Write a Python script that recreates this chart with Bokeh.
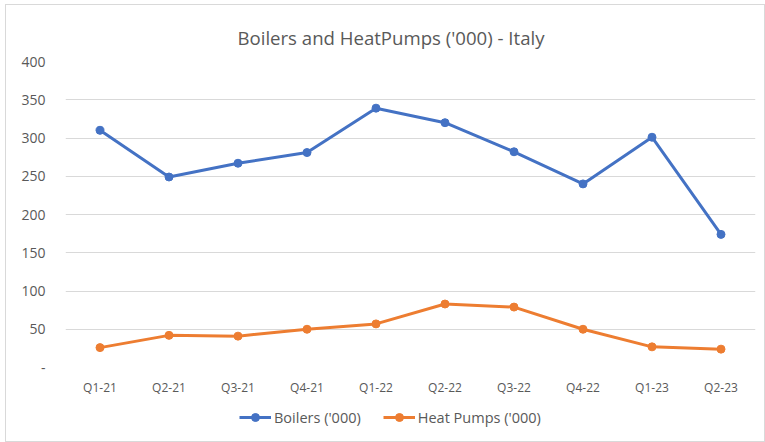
from bokeh.plotting import figure
from bokeh.layouts import column
from bokeh.models import FactorRange, Range1d, FixedTicker, Legend, LegendItem, Label
from bokeh.embed import file_html
from bokeh.resources import INLINE

quarters = ["Q1-21", "Q2-21", "Q3-21", "Q4-21", "Q1-22", "Q2-22", "Q3-22", "Q4-22", "Q1-23", "Q2-23"]
boilers = [310, 249, 267, 281, 339, 320, 282, 240, 301, 174]
heat_pumps = [26, 42, 41, 50, 57, 83, 79, 50, 27, 24]
y_ticks = [0, 50, 100, 150, 200, 250, 300, 350, 400]
series_names = ["Boilers ('000)", "Heat Pumps ('000)"]
series_colors = ["#4472C4", "#ED7D31"]
chart_title = "Boilers and HeatPumps ('000) - Italy"

FONT = "Open Sans"
GREY = "#595959"

# title strip (its frame spans 690 x 46 px, aligned with the chart frame)
tp = figure(width=758, height=46, x_range=Range1d(0, 690), y_range=Range1d(0, 46),
            x_axis_type=None, y_axis_type=None, output_backend="svg", toolbar_location=None,
            min_border=0, outline_line_color=None)
tp.add_layout(Label(x=172, y=14.5, text=chart_title, text_align="left",
                    text_baseline="alphabetic", text_font=FONT, text_font_size="18.6px",
                    text_color=GREY))

p = figure(width=758, height=349, x_range=FactorRange(*quarters, range_padding=0),
           y_range=Range1d(0, 400), output_backend="svg", toolbar_location=None,
           min_border_left=59, min_border_right=9, min_border_top=10, min_border_bottom=33)

p.outline_line_color = None
p.xgrid.grid_line_color = None
p.ygrid.grid_line_color = "#D9D9D9"
p.ygrid.grid_line_width = 1

p.yaxis.ticker = FixedTicker(ticks=y_ticks)
p.yaxis.major_label_overrides = {0: "-"}
p.yaxis.axis_line_color = None
p.yaxis.major_tick_line_color = None
p.yaxis.minor_tick_line_color = None
p.yaxis.major_tick_out = 0
p.yaxis.major_label_standoff = 20
p.yaxis.major_label_text_font = FONT
p.yaxis.major_label_text_font_size = "14px"
p.yaxis.major_label_text_color = GREY

p.xaxis.axis_line_color = None
p.xaxis.major_tick_line_color = None
p.xaxis.minor_tick_line_color = None
p.xaxis.major_tick_out = 0
p.xaxis.major_label_standoff = 11
p.xaxis.major_label_text_font = FONT
p.xaxis.major_label_text_font_size = "12px"
p.xaxis.major_label_text_color = GREY

for vals, col in zip([boilers, heat_pumps], series_colors):
    p.line(quarters, vals, line_color=col, line_width=3)
    p.scatter(quarters, vals, size=8, fill_color=col, line_color=col)

# separate strip holding the legend beneath the chart (its entries draw no data marks)
lp = figure(width=758, height=41, x_range=Range1d(0, 1), y_range=Range1d(0, 1),
            x_axis_type=None, y_axis_type=None, output_backend="svg", toolbar_location=None,
            min_border=0, outline_line_color=None)
items = []
for name, col in zip(series_names, series_colors):
    lr = lp.line(x=[float("nan")], y=[float("nan")], line_color=col, line_width=3)
    sr = lp.scatter(x=[float("nan")], y=[float("nan")], size=8, fill_color=col, line_color=col)
    items.append(LegendItem(label=name, renderers=[lr, sr]))
legend = Legend(items=items, orientation="horizontal", location=(174, 14),
                padding=0, margin=0, spacing=22, label_standoff=3,
                glyph_width=32, glyph_height=20,
                border_line_color=None, background_fill_alpha=0,
                label_text_font=FONT, label_text_font_size="14.5px", label_text_color=GREY)
lp.add_layout(legend, "center")

layout = column(tp, p, lp, spacing=0,
                styles={"border": "1px solid #D9D9D9", "margin-left": "5px", "margin-top": "4px"})

open("out.html", "w").write(file_html(layout, INLINE))
